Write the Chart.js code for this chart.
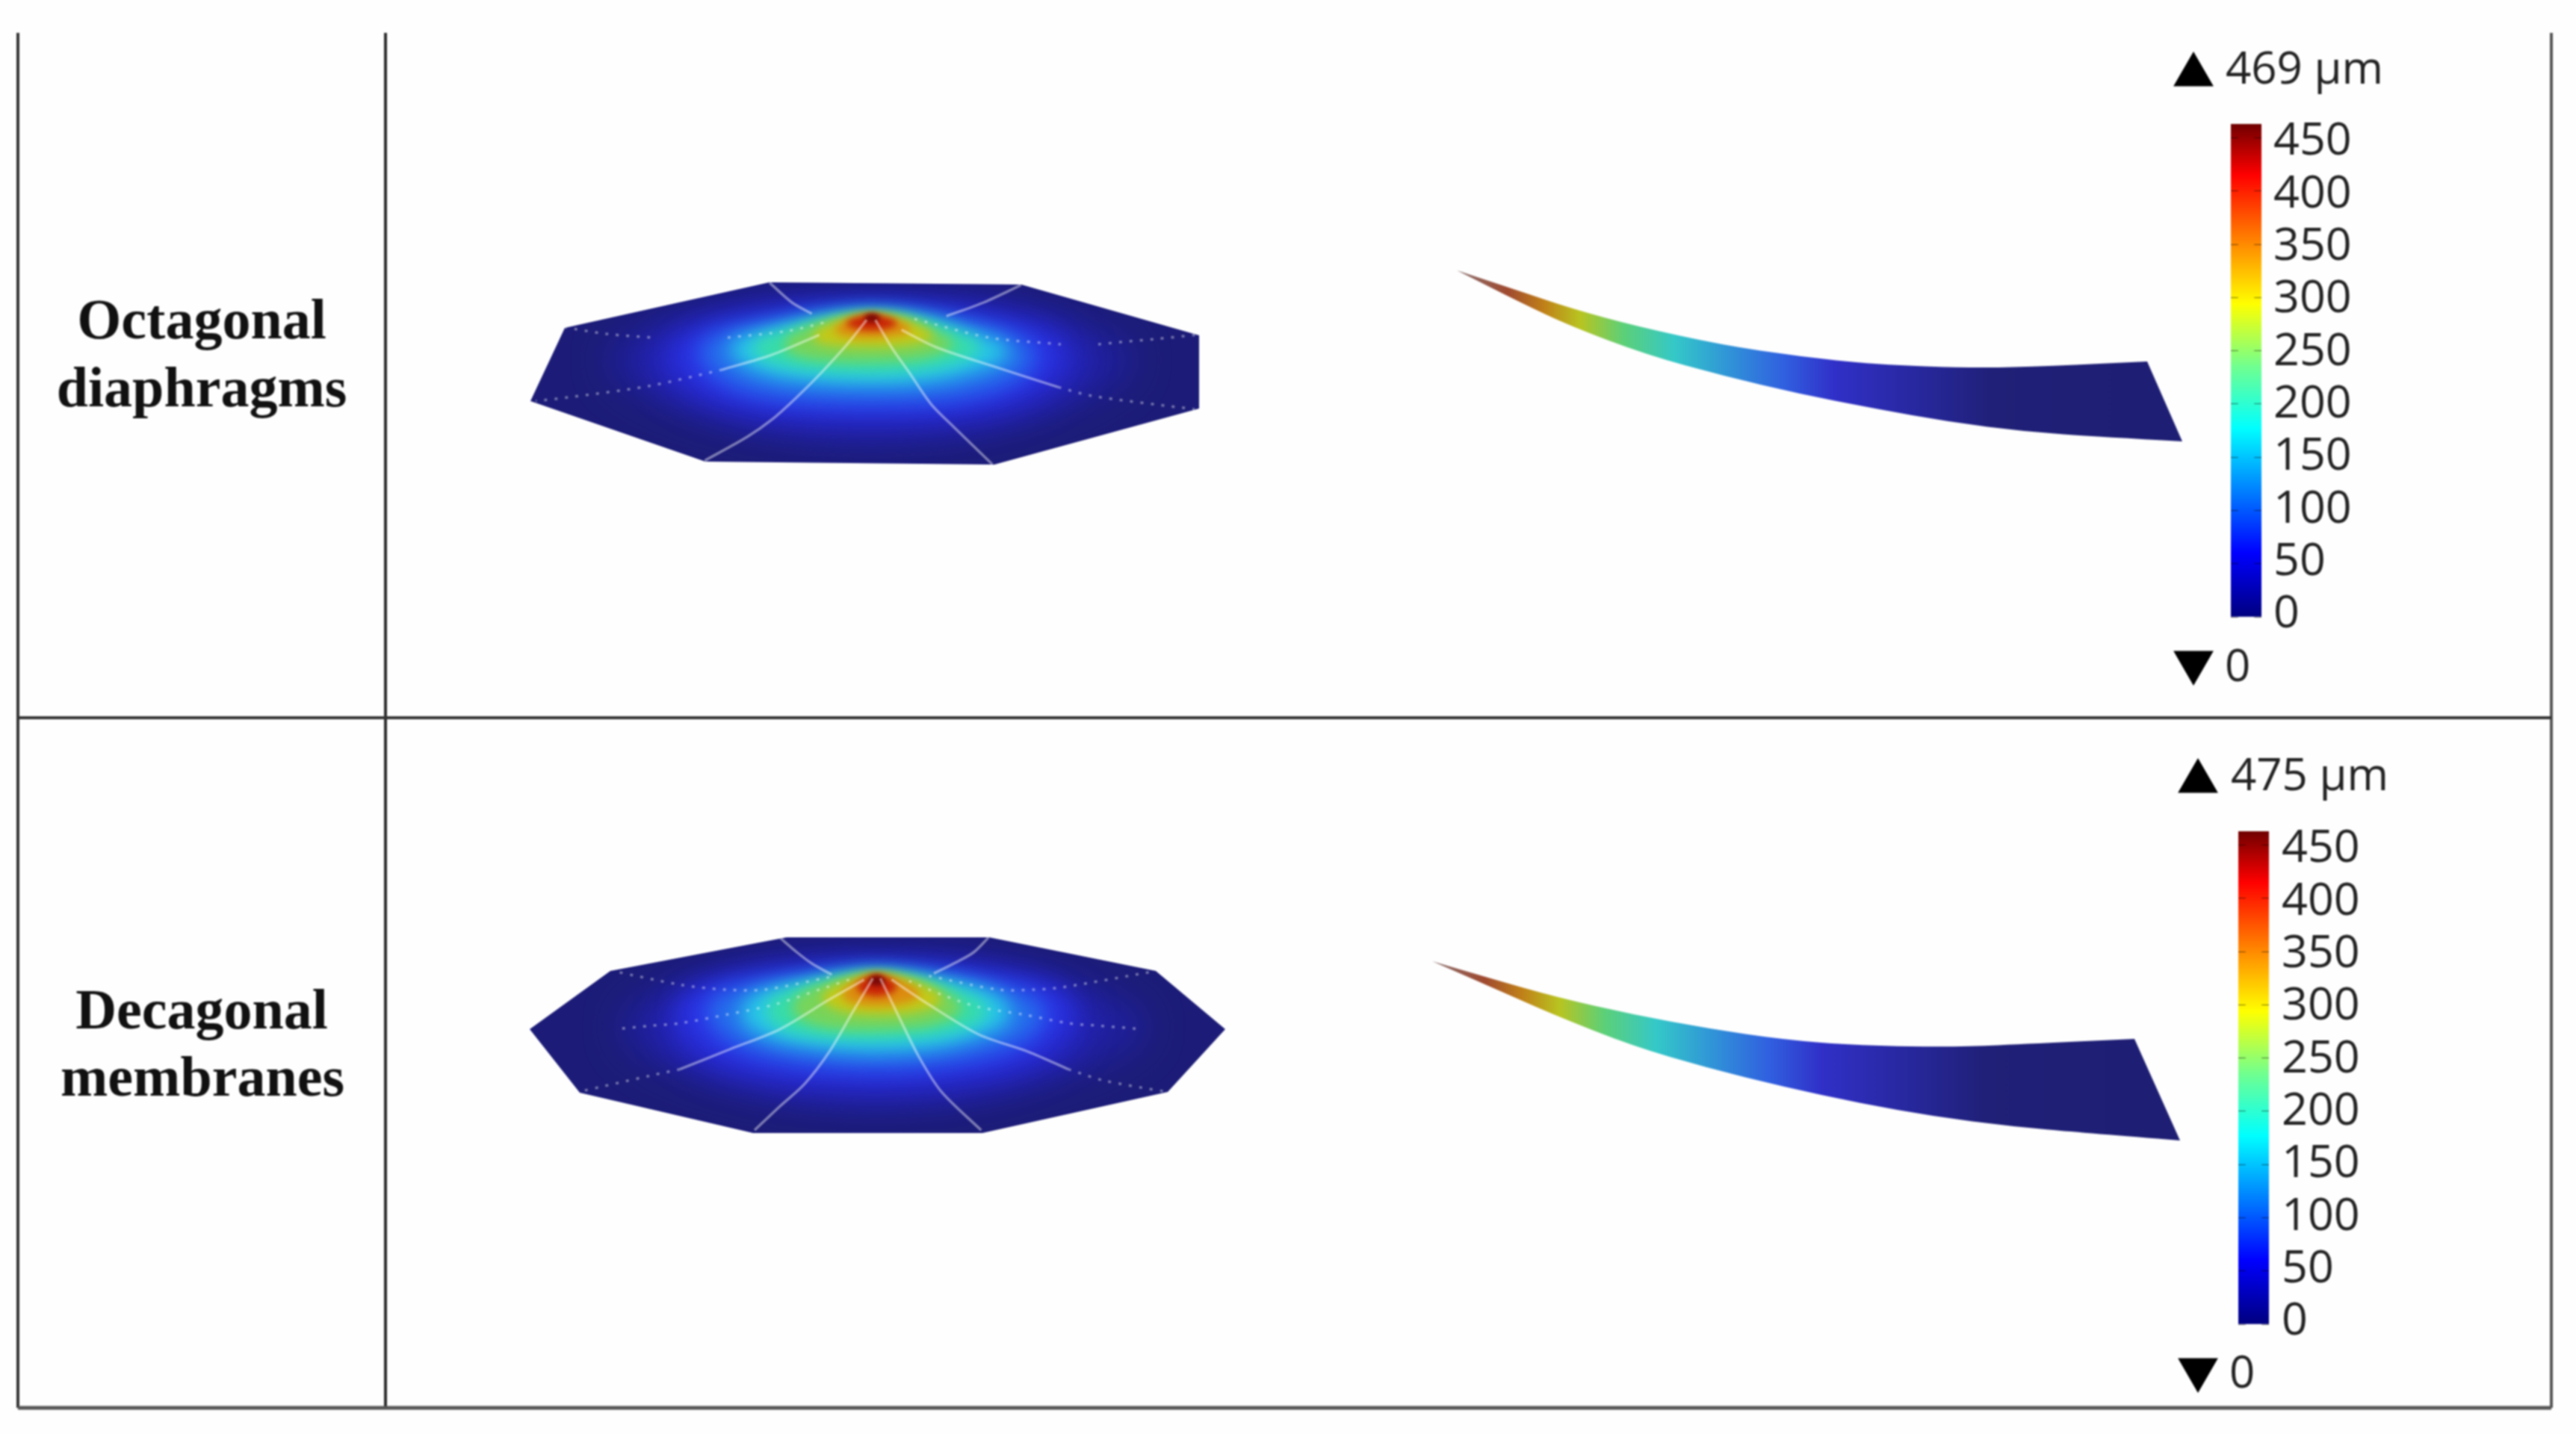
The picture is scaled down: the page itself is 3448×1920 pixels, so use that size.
<!DOCTYPE html>
<html lang="en">
<head>
    <meta charset="UTF-8">
    <title>Octagonal diaphragms and decagonal membranes</title>
    <script src="https://cdn.jsdelivr.net/npm/chart.js"></script>
    <style>
        html, body { margin: 0; background: #fefefe; }
        #page { position: relative; width: 3448px; height: 1920px; overflow: hidden; }
        canvas { position: absolute; filter: blur(0.8px); }
    </style>
</head>
<body>
<div id="page">
    <canvas id="main" width="3448" height="1920" style="left:0;top:0"></canvas>
    <canvas id="barTop" width="240" height="750" style="left:2986px;top:126px"></canvas>
    <canvas id="barBottom" width="240" height="750" style="left:2996px;top:1073px"></canvas>
</div>

<script>
    // table text
    const rowLabels = ["Octagonal", "diaphragms", "Decagonal", "membranes"];
    const rowLabelX = [270, 270, 270, 271];
    const rowLabelY = [453, 544, 1377, 1467];
    const maxLabels = ["469 µm", "475 µm"];
    const maxLabelX = [2979, 2986];
    const maxLabelY = [112, 1058];
    const minLabels = ["0", "0"];
    const minLabelX = [2978, 2984];
    const minLabelY = [912, 1858];

    // colour bar
    const barTicks = [0, 50, 100, 150, 200, 250, 300, 350, 400, 450];
    const barMax = 463;
    // the printed numbers sit a little tighter than the marks on the bar
    const labelAxisMin = -2.1;
    const labelAxisMax = 467;
    const barStopValues = [0, 60, 177, 235, 294, 355, 415, 463];
    const barStopColors = ["#00007f", "#0000ff", "#00ffff", "#70ff90", "#ffff00", "#ff8000", "#ff0000", "#700000"];

    // table rules, in page pixels
    const ruleLeft = [[24, 44], [24, 1885]];
    const ruleMiddle = [[516, 44], [516, 1885]];
    const ruleRight = [[3415, 44], [3415, 1885]];
    const ruleRow = [[24, 961], [3415, 961]];
    const ruleBottom = [[24, 1885], [3415, 1885]];

    // max / min markers
    const upMarkers = [[2936, 100], [2942, 1046]];
    const downMarkers = [[2936, 887], [2942, 1834]];

    // plate outlines
    const octOutline = [[1030, 378], [1367, 381], [1605, 449], [1605, 547], [1331, 622], [944, 618], [710, 537], [756, 439]];
    const decOutline = [[1053, 1255], [1324, 1255], [1547, 1300], [1640, 1378], [1563, 1462], [1315, 1517], [1008, 1517], [776, 1463], [709, 1378], [817, 1300]];

    const contourColors = ["#2020a0", "#2628c8", "#2a34e6", "#2570ec", "#28c8e6", "#38dca8", "#78d45a", "#c4c818", "#dc8c10", "#c82408", "#7a0808"];
    const contourBlur = [24, 20, 16, 14, 12, 10, 8, 7, 6, 5, 3];

    const octContours = [
        [801,25, 300,45, -120,150, -300,285, -120,450, 300,585, 801,640, 1320,585, 1700,450, 1900,285, 1700,150, 1290,45],
        [801,55, 320,75, -10,170, -110,285, 0,430, 320,540, 801,570, 1280,540, 1560,430, 1680,285, 1580,170, 1270,75],
        [800,75, 600,90, 300,130, 40,200, 0,290, 130,420, 400,490, 800,510, 1200,490, 1450,410, 1570,290, 1520,190, 1250,130, 1000,90],
        [800,85, 600,100, 300,150, 130,195, 100,290, 230,400, 450,450, 800,465, 1150,450, 1380,380, 1470,290, 1420,200, 1220,140, 1000,100],
        [800,95, 600,115, 400,160, 230,205, 230,280, 350,350, 560,385, 800,395, 1040,385, 1260,330, 1370,270, 1320,210, 1180,170, 1000,115],
        [800,100, 620,120, 430,175, 320,215, 330,280, 500,330, 800,348, 1050,330, 1230,270, 1240,220, 1130,170, 990,120],
        [800,102, 640,125, 500,170, 440,220, 470,270, 600,295, 800,300, 1000,290, 1130,245, 1130,210, 1050,170, 960,120],
        [800,105, 670,128, 570,170, 560,215, 640,235, 800,242, 950,235, 1060,205, 1030,170, 930,125],
        [800,105, 700,125, 640,170, 680,195, 800,205, 930,190, 970,165, 900,125],
        [800,105, 730,120, 680,150, 800,180, 920,150, 870,120],
        [800,100, 765,118, 780,140, 820,140, 840,118]
    ];
    const decContours = [
        [789,10, 330,30, -100,140, -280,300, -100,460, 330,590, 789,640, 1260,590, 1700,460, 1930,300, 1700,140, 1260,30],
        [790,35, 340,55, 10,155, -90,290, 20,440, 340,545, 790,580, 1240,545, 1540,440, 1660,290, 1580,155, 1250,55],
        [790,50, 600,70, 300,100, 40,150, -20,270, 130,420, 420,490, 790,520, 1150,490, 1430,420, 1580,270, 1530,150, 1270,100, 1000,65],
        [790,65, 600,85, 300,120, 130,170, 100,270, 220,380, 450,440, 790,470, 1130,440, 1370,370, 1480,270, 1430,170, 1220,120, 1000,85],
        [790,75, 600,95, 400,130, 270,170, 230,270, 340,350, 560,390, 790,405, 1030,390, 1240,330, 1340,270, 1310,180, 1190,130, 980,95],
        [790,78, 620,100, 430,150, 340,200, 360,290, 500,340, 790,355, 1050,335, 1220,280, 1240,210, 1130,150, 970,100],
        [790,80, 640,105, 500,150, 440,210, 470,270, 600,310, 790,315, 1000,300, 1130,250, 1130,200, 1060,150, 950,105],
        [790,82, 670,110, 570,160, 570,205, 660,245, 790,255, 950,245, 1060,205, 1040,160, 930,110],
        [790,82, 700,110, 640,170, 680,205, 790,220, 920,205, 980,170, 900,110],
        [790,82, 725,115, 700,150, 790,185, 880,150, 860,115],
        [790,85, 750,110, 770,135, 815,135, 830,110]
    ];

    // mesh lines on the plates, in the same crop coordinates as the contours
    const octMeshSolid = [
        [780,130, 700,230, 600,340, 500,440, 400,530, 300,600, 130,695],
        [815,130, 880,240, 950,340, 1040,470, 1130,560, 1285,710],
        [590,190, 400,270, 200,330],
        [920,170, 1060,240, 1300,320, 1550,400],
        [390,-20, 480,60, 560,105],
        [1400,-10, 1250,60, 1100,115]
    ];
    const octMeshDotted = [
        [200,330, -97,396, -417,441, -549,456],
        [1550,400, 1683,435, 2097,489],
        [-435,159, -267,186, -78,201],
        [222,201, 465,174, 633,135],
        [972,126, 1272,201, 1560,228],
        [1710,228, 1833,216, 1938,207, 2112,189]
    ];
    const decMeshSolid = [
        [775,105, 700,230, 600,400, 500,530, 400,620, 300,715],
        [805,105, 880,260, 960,420, 1050,560, 1210,715],
        [740,110, 600,190, 400,310, 200,390, 0,470],
        [850,110, 1000,210, 1200,330, 1400,400, 1560,470],
        [400,-60, 470,0, 530,45, 610,90],
        [1240,-60, 1180,0, 1110,40, 1020,85]
    ];
    const decMeshDotted = [
        [0,470, -116,495, -403,560],
        [1560,470, 1701,515, 1950,560],
        [680,110, 560,150, 380,210, 190,250, 0,285, -116,295, -240,307],
        [920,115, 1050,170, 1200,220, 1380,250, 1560,285, 1682,295, 1835,307],
        [600,100, 340,150, 180,150, 0,130, -269,75],
        [1000,95, 1280,150, 1420,150, 1540,140, 1912,75]
    ];

    // side views of the plates: top edge, then the bottom edge back to the tip
    const octStrip = [[1950,362], [2035,390], [2103,413], [2191,437], [2306,462], [2407,477], [2509,488], [2644,493], [2745,490], [2874,484],
        [2921,591], [2813,585], [2711,578], [2610,565], [2509,547], [2407,527], [2306,503], [2204,475], [2103,437], [2035,405]];
    const decStrip = [[1917,1287], [1995,1310], [2083,1335], [2184,1358], [2286,1377], [2387,1392], [2489,1400], [2624,1402], [2725,1397], [2857,1391],
        [2918,1527], [2793,1517], [2691,1508], [2590,1495], [2489,1477], [2387,1455], [2286,1430], [2184,1400], [2083,1360], [2015,1330]];
    const stripStops = [0, 0.07, 0.12, 0.17, 0.23, 0.3, 0.38, 0.45, 0.52, 0.63, 0.74, 1];
    const stripColors = ["#8a7070", "#a04a30", "#c08018", "#b8c420", "#5cd078", "#34c8c8", "#3090d8", "#3060e0", "#3030c8", "#2828a0", "#202078", "#1e1e74"];

    function fromCrop(flat, x0, y0) {
        let pts = [];
        for (let i = 0; i < flat.length; i += 2) {
            pts.push({ x: x0 + flat[i] / 3, y: y0 + flat[i + 1] / 3 });
        }
        return pts;
    }
    const asPoints = list => list.map(p => ({ x: p[0], y: p[1] }));

    function rule(points, color, width) {
        return { data: asPoints(points), showLine: true, borderColor: color, borderWidth: width, pointRadius: 0 };
    }
    function area(points, extra) {
        return Object.assign({ data: points, showLine: false, pointRadius: 0 }, extra);
    }
    function mesh(points, dotted) {
        return {
            data: points, showLine: true, pointRadius: 0, tension: 0.3,
            borderColor: dotted ? "rgba(255,255,255,0.38)" : "rgba(255,255,255,0.42)",
            borderWidth: 3.5, borderDash: dotted ? [4, 10] : []
        };
    }

    let datasets = [
        rule(ruleLeft, "#333333", 4),
        rule(ruleMiddle, "#2c2c2c", 4),
        rule(ruleRight, "#555555", 4),
        rule(ruleRow, "#333333", 4),
        rule(ruleBottom, "#555555", 5)
    ];

    datasets.push(area(asPoints(octOutline), { areaColor: "#1c1c78", name: "oct" }));
    octContours.forEach((c, i) => datasets.push(area(fromCrop(c, 900, 385), {
        areaColor: contourColors[i], areaBlur: contourBlur[i], clipTo: "oct", smooth: true
    })));
    octMeshSolid.forEach(m => datasets.push(mesh(fromCrop(m, 900, 385), false)));
    octMeshDotted.forEach(m => datasets.push(mesh(fromCrop(m, 900, 385), true)));

    datasets.push(area(asPoints(decOutline), { areaColor: "#1c1c78", name: "dec" }));
    decContours.forEach((c, i) => datasets.push(area(fromCrop(c, 910, 1275), {
        areaColor: contourColors[i], areaBlur: contourBlur[i], clipTo: "dec", smooth: true
    })));
    decMeshSolid.forEach(m => datasets.push(mesh(fromCrop(m, 910, 1275), false)));
    decMeshDotted.forEach(m => datasets.push(mesh(fromCrop(m, 910, 1275), true)));

    datasets.push(area(asPoints(octStrip), { stripFill: true }));
    datasets.push(area(asPoints(decStrip), { stripFill: true }));

    datasets.push({ data: asPoints(upMarkers), pointStyle: "triangle", pointRadius: 31, backgroundColor: "#000", borderWidth: 0 });
    datasets.push({ data: asPoints(downMarkers), pointStyle: "triangle", pointRadius: 31, pointRotation: 180, backgroundColor: "#000", borderWidth: 0 });

    // later datasets on top
    datasets.forEach((d, i) => { d.order = datasets.length - i; });
    const ownerSplit = datasets.findIndex(d => d.name === "dec");

    function traceClosed(ctx, pts, smooth) {
        ctx.beginPath();
        if (!smooth) {
            pts.forEach((p, i) => i ? ctx.lineTo(p.x, p.y) : ctx.moveTo(p.x, p.y));
        } else {
            let n = pts.length;
            ctx.moveTo((pts[n - 1].x + pts[0].x) / 2, (pts[n - 1].y + pts[0].y) / 2);
            for (let i = 0; i < n; i++) {
                let next = pts[(i + 1) % n];
                ctx.quadraticCurveTo(pts[i].x, pts[i].y, (pts[i].x + next.x) / 2, (pts[i].y + next.y) / 2);
            }
        }
        ctx.closePath();
    }

    // strip: curved edges, sharp tip and right end (index 9 and 10)
    function traceStrip(ctx, pts) {
        const run = list => {
            for (let i = 1; i < list.length - 1; i++) {
                ctx.quadraticCurveTo(list[i].x, list[i].y, (list[i].x + list[i + 1].x) / 2, (list[i].y + list[i + 1].y) / 2);
            }
            ctx.lineTo(list[list.length - 1].x, list[list.length - 1].y);
        };
        ctx.beginPath();
        ctx.moveTo(pts[0].x, pts[0].y);
        run(pts.slice(0, 10));
        ctx.lineTo(pts[10].x, pts[10].y);
        run(pts.slice(10).concat([pts[0]]));
        ctx.closePath();
    }

    // fills closed shapes from the pixel positions the scales gave the points
    const areaPlugin = {
        id: "areas",
        beforeDatasetDraw(chart, args) {
            let ds = chart.data.datasets[args.index];
            if (!ds.areaColor && !ds.stripFill) return;
            let ctx = chart.ctx;
            let pts = args.meta.data;
            ctx.save();
            if (ds.clipTo) {
                let owner = chart.data.datasets.findIndex(d => d.name === ds.clipTo);
                traceClosed(ctx, chart.getDatasetMeta(owner).data, false);
                ctx.clip();
            }
            if (ds.areaBlur) ctx.filter = "blur(" + ds.areaBlur + "px)";
            if (ds.stripFill) {
                let g = ctx.createLinearGradient(pts[0].x, 0, pts[10].x, 0);
                stripStops.forEach((s, i) => g.addColorStop(s, stripColors[i]));
                ctx.fillStyle = g;
                traceStrip(ctx, pts);
            } else {
                ctx.fillStyle = ds.areaColor;
                traceClosed(ctx, pts, ds.smooth);
            }
            ctx.fill();
            ctx.restore();
        }
    };

    // mesh lines stay on the plate they belong to
    const meshClipPlugin = {
        id: "meshClip",
        beforeDatasetDraw(chart, args) {
            let ds = chart.data.datasets[args.index];
            if (!ds.tension) return;
            let owner = chart.data.datasets.findIndex(d => d.name === (args.index < ownerSplit ? "oct" : "dec"));
            chart.ctx.save();
            traceClosed(chart.ctx, chart.getDatasetMeta(owner).data, false);
            chart.ctx.clip();
        },
        afterDatasetDraw(chart, args) {
            if (chart.data.datasets[args.index].tension) chart.ctx.restore();
        }
    };

    const textPlugin = {
        id: "texts",
        afterDatasetsDraw(chart) {
            let ctx = chart.ctx, sx = chart.scales.x, sy = chart.scales.y;
            ctx.save();
            ctx.textBaseline = "alphabetic";
            ctx.fillStyle = "#111111";
            ctx.font = 'bold 76px "Liberation Serif"';
            ctx.textAlign = "center";
            rowLabels.forEach((t, i) => ctx.fillText(t, sx.getPixelForValue(rowLabelX[i]), sy.getPixelForValue(rowLabelY[i])));
            ctx.fillStyle = "#222222";
            ctx.font = '60px "Open Sans"';
            ctx.textAlign = "left";
            maxLabels.forEach((t, i) => ctx.fillText(t, sx.getPixelForValue(maxLabelX[i]), sy.getPixelForValue(maxLabelY[i])));
            minLabels.forEach((t, i) => ctx.fillText(t, sx.getPixelForValue(minLabelX[i]), sy.getPixelForValue(minLabelY[i])));
            ctx.restore();
        }
    };

    new Chart(document.getElementById("main"), {
        type: "scatter",
        data: { datasets: datasets },
        plugins: [areaPlugin, meshClipPlugin, textPlugin],
        options: {
            responsive: false,
            animation: false,
            layout: { padding: 0, autoPadding: false },
            plugins: { legend: { display: false }, tooltip: { enabled: false } },
            scales: {
                x: { type: "linear", min: 0, max: 3448, display: false },
                y: { type: "linear", min: 0, max: 1920, reverse: true, display: false }
            }
        }
    });

    function colourBar(id, tickPadding) {
        new Chart(document.getElementById(id), {
            type: "bar",
            data: {
                labels: ["displacement"],
                datasets: [{
                    data: [[0, barMax]],
                    yAxisID: "y",
                    barPercentage: 1,
                    categoryPercentage: 1,
                    backgroundColor(c) {
                        let area = c.chart.chartArea, y = c.chart.scales.y;
                        if (!area) return "#0000ff";
                        let g = c.chart.ctx.createLinearGradient(0, area.bottom, 0, area.top);
                        barStopValues.forEach((v, i) => {
                            g.addColorStop((y.getPixelForValue(v) - area.bottom) / (area.top - area.bottom), barStopColors[i]);
                        });
                        return g;
                    }
                }]
            },
            options: {
                responsive: false,
                animation: false,
                layout: { padding: { top: 40, bottom: 50, left: 0, right: 0 }, autoPadding: false },
                plugins: { legend: { display: false }, tooltip: { enabled: false } },
                scales: {
                    x: { display: false },
                    y: {
                        position: "right",
                        min: 0,
                        max: barMax,
                        afterFit(scale) { scale.width = 0; scale.paddingTop = 0; scale.paddingBottom = 0; },
                        afterBuildTicks(scale) { scale.ticks = barTicks.map(v => ({ value: v })); },
                        border: { display: false },
                        ticks: { display: false },
                        grid: {
                            z: 1,
                            drawTicks: false,
                            color(c) {
                                let area = c.chart.chartArea;
                                if (!area) return "rgba(0,0,0,0)";
                                let g = c.chart.ctx.createLinearGradient(area.left, 0, area.right, 0);
                                g.addColorStop(0, "rgba(0,0,0,0.55)");
                                g.addColorStop(0.22, "rgba(0,0,0,0.5)");
                                g.addColorStop(0.26, "rgba(0,0,0,0)");
                                g.addColorStop(0.74, "rgba(0,0,0,0)");
                                g.addColorStop(0.78, "rgba(0,0,0,0.5)");
                                g.addColorStop(1, "rgba(0,0,0,0.55)");
                                return g;
                            }
                        }
                    },
                    labelAxis: {
                        position: "right",
                        min: labelAxisMin,
                        max: labelAxisMax,
                        afterFit(scale) { scale.width = 199; scale.paddingTop = 0; scale.paddingBottom = 0; },
                        afterBuildTicks(scale) { scale.ticks = barTicks.map(v => ({ value: v })); },
                        border: { display: false },
                        grid: { display: false, drawTicks: false },
                        ticks: {
                            autoSkip: false,
                            includeBounds: false,
                            padding: tickPadding,
                            crossAlign: "near",
                            color: "#222222",
                            font: { family: "Open Sans", size: 61 }
                        }
                    }
                }
            }
        });
    }
    colourBar("barTop", 16);
    colourBar("barBottom", 17);
</script>
</body>
</html>
